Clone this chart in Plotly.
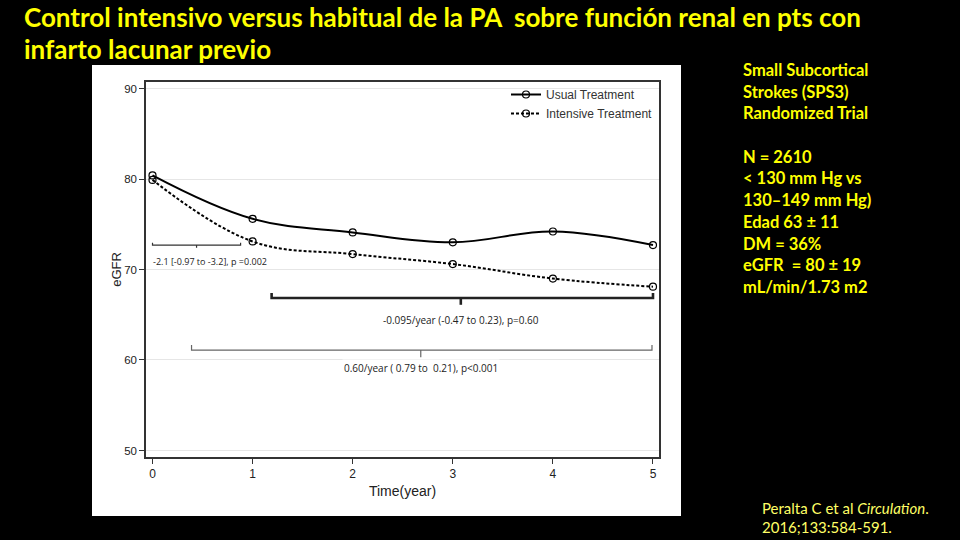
import plotly.graph_objects as go

# --- data ---
YEARS = [0, 1, 2, 3, 4, 5]
USUAL_EGFR = [80.4, 75.6, 74.1, 73.0, 74.2, 72.7]
INTENSIVE_EGFR = [79.9, 73.1, 71.7, 70.6, 69.0, 68.1]

Y_TICKS = [50, 60, 70, 80, 90]

# brackets: (start year, end year, level, middle year, label)
BRACKET_START = [0.0, 1.19, 0.39]
BRACKET_END = [0.88, 5.0, 4.99]
BRACKET_LEVEL = [72.7, 66.85, 61.1]
BRACKET_MID = [0.44, 3.08, 2.68]
BRACKET_LABELS = [
    "-2.1 [-0.97 to -3.2], p =0.002",
    "-0.095/year (-0.47 to 0.23), p=0.60",
    "0.60/year ( 0.79 to  0.21), p<0.001",
]
LABEL_LEVEL = [70.9, 64.4, 59.1]

TITLE_LINES = [
    "Control intensivo versus habitual de la PA  sobre función renal en pts con",
    "infarto lacunar previo",
]
SIDE_LINES = [
    "Small Subcortical",
    "Strokes (SPS3)",
    "Randomized Trial",
    "",
    "N = 2610",
    "< 130 mm Hg vs",
    "130–149 mm Hg)",
    "Edad 63 ± 11",
    "DM = 36%",
    "eGFR  = 80 ± 19",
    "mL/min/1.73 m2",
]
CITATION_LINES = ["Peralta C et al <i>Circulation</i>.", "2016;133:584-591."]

W, H = 960, 540
YELLOW = "#FFFF00"


def px(x):
    return x / W


def py(y):
    return 1 - y / H


fig = go.Figure()

fig.add_trace(go.Scatter(
    x=YEARS, y=USUAL_EGFR, mode="lines+markers", name="Usual Treatment",
    line=dict(color="black", width=2, shape="spline", smoothing=1.1),
    marker=dict(symbol="circle-open", size=7, color="black", line=dict(width=1.2)),
))
fig.add_trace(go.Scatter(
    x=YEARS, y=INTENSIVE_EGFR, mode="lines+markers", name="Intensive Treatment",
    line=dict(color="black", width=2, dash="3px,2px", shape="spline", smoothing=1.1),
    marker=dict(symbol="circle-open", size=7, color="black", line=dict(width=1.2)),
))

# --- curly brackets with their labels ---
bracket_styles = [
    dict(color="#333333", width=1.2, up=0.25, down=0.3, size=9),
    dict(color="#222222", width=2.6, up=0.55, down=0.75, size=10),
    dict(color="#666666", width=1.2, up=0.55, down=0.8, size=10),
]
for i in range(len(BRACKET_START)):
    st = bracket_styles[i]
    x0, x1, lvl, xm = BRACKET_START[i], BRACKET_END[i], BRACKET_LEVEL[i], BRACKET_MID[i]
    fig.add_trace(go.Scatter(
        x=[x0, x0, x1, x1, None, xm, xm],
        y=[lvl + st["up"], lvl, lvl, lvl + st["up"], None, lvl, lvl - st["down"]],
        mode="lines", line=dict(color=st["color"], width=st["width"]),
        showlegend=False, hoverinfo="skip",
    ))
    if i == 0:
        fig.add_annotation(x=x0 - 0.02, y=LABEL_LEVEL[i], text=BRACKET_LABELS[i],
                           xanchor="left", showarrow=False,
                           font=dict(size=st["size"], color="#222222"))
    else:
        fig.add_annotation(x=xm, y=LABEL_LEVEL[i], text=BRACKET_LABELS[i],
                           xanchor="center", showarrow=False,
                           bgcolor="white" if i == 2 else None,
                           font=dict(size=st["size"], color="#222222"))

# --- slide text ---
for i, line in enumerate(TITLE_LINES):
    fig.add_annotation(xref="paper", yref="paper", x=px(22), y=py(17 + 32 * i),
                       text=f"<b>{line}</b>", xanchor="left", yanchor="middle",
                       showarrow=False, font=dict(family="Lato", size=26, color=YELLOW))
for i, line in enumerate(SIDE_LINES):
    if not line:
        continue
    fig.add_annotation(xref="paper", yref="paper", x=px(741), y=py(70 + 21.7 * i),
                       text=f"<b>{line}</b>", xanchor="left", yanchor="middle",
                       showarrow=False, font=dict(family="Lato", size=16.5, color=YELLOW))
for i, line in enumerate(CITATION_LINES):
    fig.add_annotation(xref="paper", yref="paper", x=px(760), y=py(508 + 19 * i),
                       text=line, xanchor="left", yanchor="middle",
                       showarrow=False, font=dict(family="Lato", size=15, color="#FFFF66"))

# white picture behind the chart
fig.add_shape(type="rect", xref="paper", yref="paper", layer="below",
              x0=px(92), x1=px(681), y0=py(516), y1=py(65),
              fillcolor="white", line=dict(width=0))

fig.update_xaxes(
    domain=[px(146), px(659)], range=[-0.065, 5.06],
    tickvals=YEARS, ticks="outside", ticklen=5, tickcolor="#333333",
    showline=True, linecolor="#333333", linewidth=1.5, mirror=True,
    showgrid=False, zeroline=False,
    tickfont=dict(family="Arial", size=12, color="#222222"),
    title=dict(text="Time(year)", font=dict(family="Arial", size=14, color="#222222"), standoff=6),
)
fig.update_yaxes(
    domain=[py(457), py(82)], range=[49.28, 90.72],
    tickvals=Y_TICKS, ticks="outside", ticklen=5, tickcolor="#333333",
    showline=True, linecolor="#333333", linewidth=1.5, mirror=True,
    showgrid=True, gridcolor="#E6E6E6", zeroline=False,
    tickfont=dict(family="Arial", size=11.5, color="#222222"),
    title=dict(text="eGFR", font=dict(family="Arial", size=13, color="#222222"), standoff=0),
)

fig.update_layout(
    width=W, height=H,
    margin=dict(l=0, r=0, t=0, b=0),
    paper_bgcolor="black", plot_bgcolor="white",
    legend=dict(x=px(506), y=py(80), xanchor="left", yanchor="top",
                bgcolor="rgba(0,0,0,0)", tracegroupgap=0,
                font=dict(family="Arial", size=12, color="#333333")),
    showlegend=True,
)

fig.write_html("out.html", config={"displayModeBar": False},
               post_script="document.body.style.margin='0';")
